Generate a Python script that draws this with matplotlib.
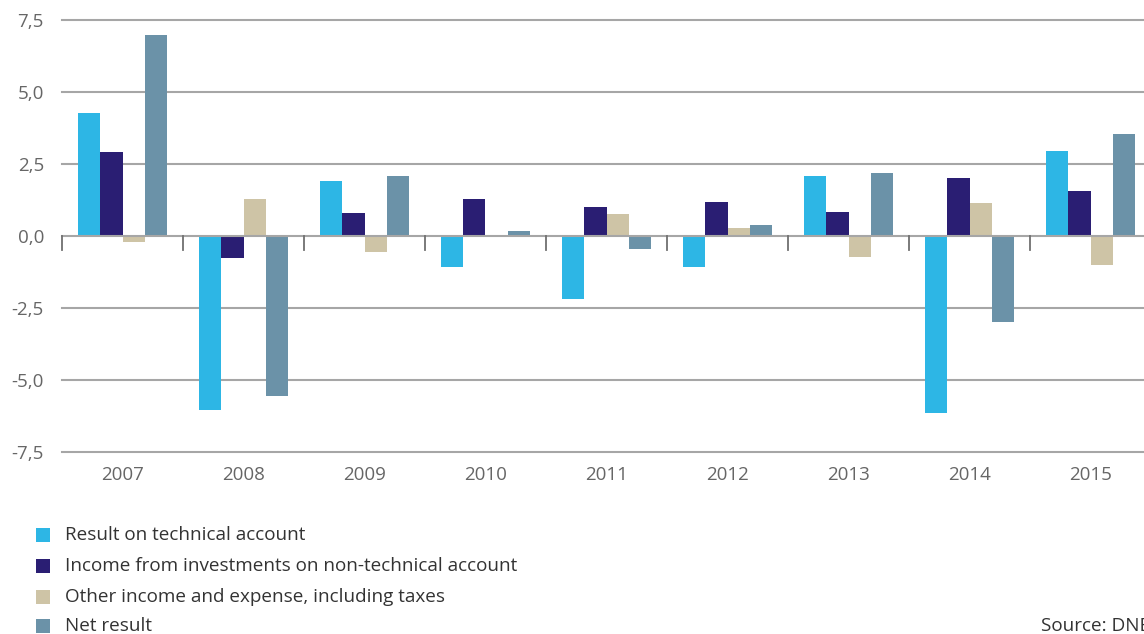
import matplotlib
matplotlib.use("Agg")
import matplotlib.pyplot as plt
from matplotlib.patches import Rectangle
from matplotlib.transforms import blended_transform_factory
import numpy as np

plt.rcParams['font.family'] = ['Open Sans', 'DejaVu Sans']

years = ['2007', '2008', '2009', '2010', '2011', '2012', '2013', '2014', '2015']
technical = [4.27, -6.04, 1.91, -1.08, -2.19, -1.06, 2.09, -6.13, 2.96]
investments = [2.92, -0.76, 0.80, 1.28, 1.02, 1.18, 0.83, 2.03, 1.57]
other = [-0.20, 1.28, -0.55, 0.02, 0.76, 0.28, -0.72, 1.14, -0.99]
net = [6.98, -5.56, 2.08, 0.17, -0.45, 0.38, 2.20, -2.98, 3.53]

series_names = ['Result on technical account',
                'Income from investments on non-technical account',
                'Other income and expense, including taxes',
                'Net result']
colors = ['#2DB6E5', '#2A1E73', '#CEC4A6', '#6B92A8']
yticks = [-7.5, -5.0, -2.5, 0.0, 2.5, 5.0, 7.5]
ytick_labels = ['-7,5', '-5,0', '-2,5', '0,0', '2,5', '5,0', '7,5']

text_color = '#666666'
grid_color = '#a6a6a6'

W, H = 1144, 634
fig = plt.figure(figsize=(W / 100, H / 100), dpi=100)
ax_left, ax_right, ax_top, ax_bottom = 62, 1151, 20, 452
ax = fig.add_axes([ax_left / W, 1 - ax_bottom / H,
                   (ax_right - ax_left) / W, (ax_bottom - ax_top) / H])

x = np.arange(len(years))
bw = 0.182
all_series = [technical, investments, other, net]
for i, (vals, col) in enumerate(zip(all_series, colors)):
    ax.bar(x + (i - 1.5) * bw, vals, width=bw, color=col, linewidth=0, zorder=3)

ax.set_xlim(-0.5, len(years) - 0.5)
ax.set_ylim(-7.5, 7.5)

for yv in yticks:
    ax.axhline(yv, color=grid_color, lw=1.5, zorder=1 if yv != 0 else 4,
               clip_on=False)

# category separators hanging below the zero line
trans = blended_transform_factory(ax.transData, ax.transData)
for b in np.arange(-0.5, len(years) - 0.4, 1.0):
    ax.plot([b, b], [0, -0.49], color='#707070', lw=1.3, zorder=4,
            transform=trans, clip_on=False)

for s in ax.spines.values():
    s.set_visible(False)

ax.set_yticks(yticks)
ax.set_yticklabels(ytick_labels)
ax.set_xticks(x)
ax.set_xticklabels(years)
ax.tick_params(axis='both', length=0, colors=text_color, labelsize=13.5)
ax.tick_params(axis='y', pad=13)
ax.tick_params(axis='x', pad=10)

# legend
sq = 14
rows_y = [535, 566, 597, 626]
for name, col, yc in zip(series_names, colors, rows_y):
    fig.add_artist(Rectangle((36 / W, 1 - (yc + sq / 2) / H), sq / W, sq / H,
                             transform=fig.transFigure, color=col, lw=0))
    fig.text(65 / W, 1 - yc / H, name, ha='left', va='center',
             fontsize=13.6, color='#333333')

fig.text(1041 / W, 1 - 626 / H, 'Source: DNB', ha='left', va='center',
         fontsize=13.6, color='#333333')

fig.savefig('out.png', dpi=100)
